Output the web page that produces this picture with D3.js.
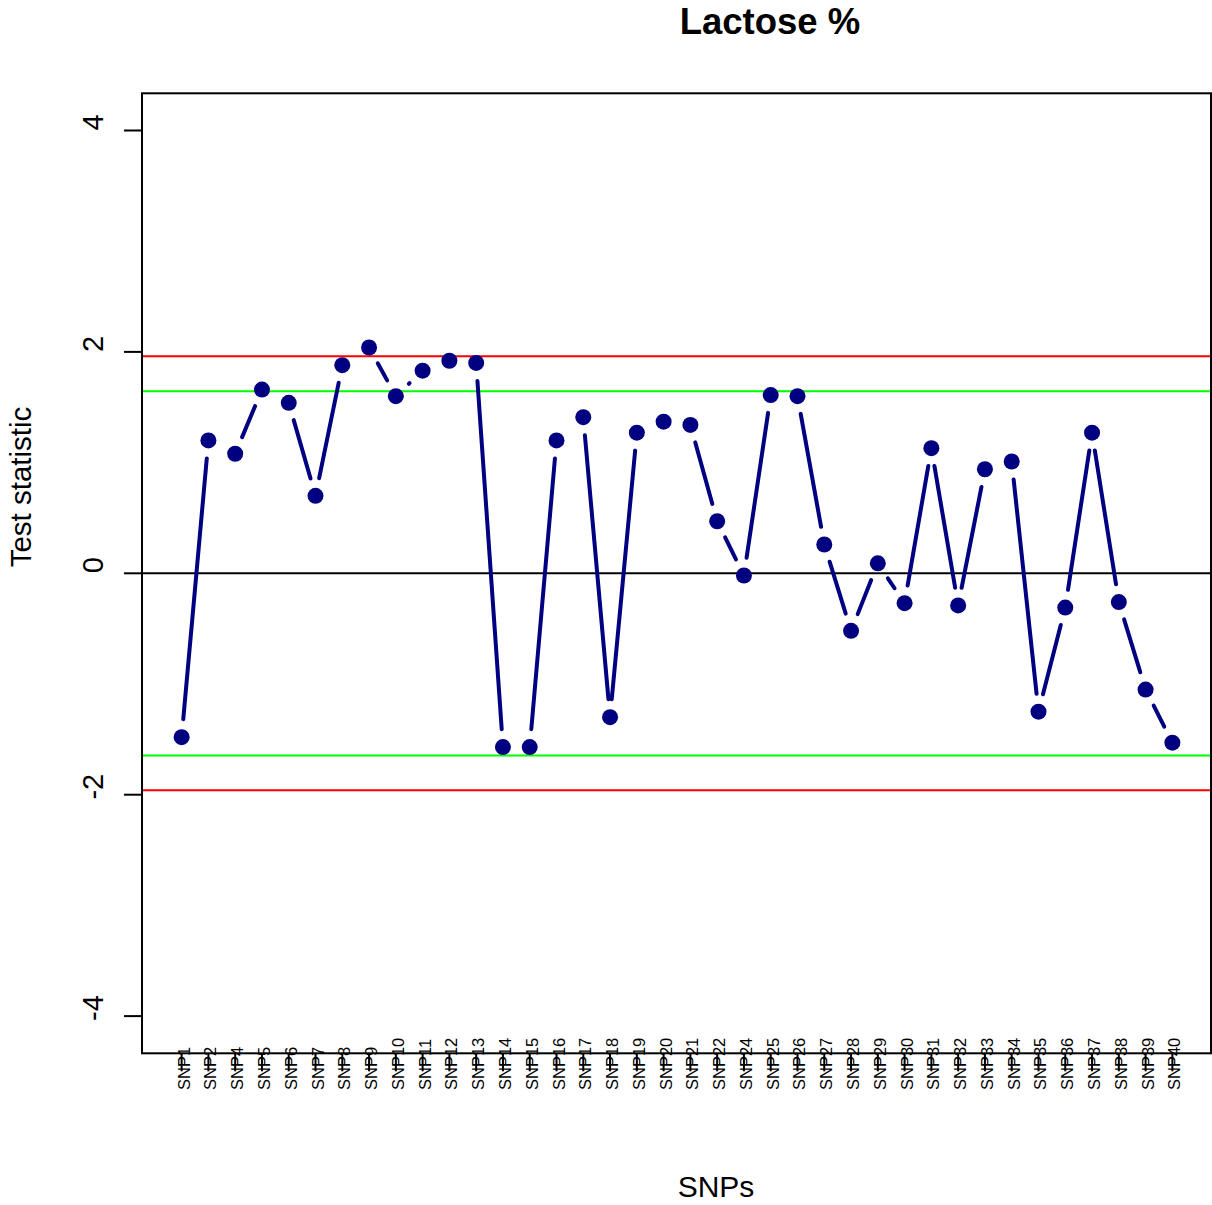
<!DOCTYPE html>
<html>
<head>
<meta charset="utf-8">
<script src="https://cdn.jsdelivr.net/npm/d3@7"></script>
<style>
  body { margin: 0; background: #fff; }
  svg { display: block; font-family: "Liberation Sans", Arial, sans-serif; }
</style>
</head>
<body>
<div id="chart"></div>
<script>
// SNP names on the x axis (SNP3 and SNP23 are not in the plot)
const snpLabels = ['SNP1', 'SNP2', 'SNP4', 'SNP5', 'SNP6', 'SNP7', 'SNP8', 'SNP9', 'SNP10',
  'SNP11', 'SNP12', 'SNP13', 'SNP14', 'SNP15', 'SNP16', 'SNP17', 'SNP18', 'SNP19', 'SNP20',
  'SNP21', 'SNP22', 'SNP24', 'SNP25', 'SNP26', 'SNP27', 'SNP28', 'SNP29', 'SNP30', 'SNP31',
  'SNP32', 'SNP33', 'SNP34', 'SNP35', 'SNP36', 'SNP37', 'SNP38', 'SNP39', 'SNP40'];

// test statistic per SNP
const testStat = [-1.48, 1.20, 1.08, 1.66, 1.54, 0.70, 1.88, 2.04, 1.60,
  1.83, 1.92, 1.90, -1.57, -1.57, 1.20, 1.41, -1.30, 1.27, 1.37,
  1.34, 0.47, -0.02, 1.61, 1.60, 0.26, -0.52, 0.09, -0.27, 1.13,
  -0.29, 0.94, 1.01, -1.25, -0.31, 1.27, -0.26, -1.05, -1.53];

const yTicks = [-4, -2, 0, 2, 4];
const redLines = [1.96, -1.96];
const greenLines = [1.645, -1.645];

const width = 1212, height = 1205;
const plotLeft = 142, plotRight = 1211, plotTop = 93.3, plotBottom = 1053.3;

const svg = d3.select('#chart')
  .append('svg')
  .attr('width', width)
  .attr('height', height);

const n = snpLabels.length;
const pad = (n - 1) * 0.04;
const x = d3.scaleLinear()
  .domain([1 - pad, n + pad])
  .range([plotLeft, 1212]);

const y = d3.scaleLinear()
  .domain([-4.336, 4.336])
  .range([plotBottom, plotTop]);

// reference lines
const hline = (v, color) => svg.append('line')
  .attr('x1', plotLeft).attr('x2', plotRight)
  .attr('y1', y(v)).attr('y2', y(v))
  .attr('stroke', color)
  .attr('stroke-width', 2);

redLines.forEach(v => hline(v, '#ff0000'));
greenLines.forEach(v => hline(v, '#00ff00'));
hline(0, '#000');

// line segments with gaps round the points (like R type = "b")
const pts = testStat.map((v, i) => [x(i + 1), y(v)]);
const gap = 18;
const segs = [];
for (let i = 0; i < pts.length - 1; i++) {
  const [x0, y0] = pts[i], [x1, y1] = pts[i + 1];
  const len = Math.hypot(x1 - x0, y1 - y0);
  if (len <= 2 * gap) continue;
  const ux = (x1 - x0) / len, uy = (y1 - y0) / len;
  segs.push([x0 + ux * gap, y0 + uy * gap, x1 - ux * gap, y1 - uy * gap]);
}

svg.append('g')
  .selectAll('line')
  .data(segs)
  .enter()
  .append('line')
  .attr('x1', d => d[0]).attr('y1', d => d[1])
  .attr('x2', d => d[2]).attr('y2', d => d[3])
  .attr('stroke', '#000080')
  .attr('stroke-width', 4)
  .attr('stroke-linecap', 'round');

svg.append('g')
  .selectAll('circle')
  .data(testStat)
  .enter()
  .append('circle')
  .attr('cx', (d, i) => x(i + 1))
  .attr('cy', d => y(d))
  .attr('r', 8)
  .attr('fill', '#000080');

// y axis ticks and labels
const yAxis = svg.append('g');
yAxis.selectAll('line')
  .data(yTicks)
  .enter()
  .append('line')
  .attr('x1', plotLeft - 18).attr('x2', plotLeft)
  .attr('y1', d => y(d)).attr('y2', d => y(d))
  .attr('stroke', '#000')
  .attr('stroke-width', 2);

yAxis.selectAll('text')
  .data(yTicks)
  .enter()
  .append('text')
  .attr('transform', d => `translate(103,${y(d) - 8}) rotate(-90)`)
  .attr('text-anchor', 'middle')
  .style('font-size', '29px')
  .text(d => d);

// x axis ticks and labels
const xAxis = svg.append('g');
xAxis.selectAll('text')
  .data(snpLabels)
  .enter()
  .append('text')
  .attr('transform', (d, i) => `translate(${x(i + 1) + 8},1090) rotate(-90)`)
  .attr('text-anchor', 'start')
  .style('font-size', '16.5px')
  .text(d => d);

xAxis.selectAll('line')
  .data(snpLabels)
  .enter()
  .append('line')
  .attr('x1', (d, i) => x(i + 1)).attr('x2', (d, i) => x(i + 1))
  .attr('y1', plotBottom).attr('y2', plotBottom + 18)
  .attr('stroke', '#000')
  .attr('stroke-width', 2);

// plot frame
svg.append('rect')
  .attr('x', plotLeft).attr('y', plotTop)
  .attr('width', plotRight - plotLeft).attr('height', plotBottom - plotTop)
  .attr('fill', 'none')
  .attr('stroke', '#000')
  .attr('stroke-width', 2);

// titles
svg.append('text')
  .attr('x', 770).attr('y', 34)
  .attr('text-anchor', 'middle')
  .style('font-size', '36.5px')
  .style('font-weight', 'bold')
  .text('Lactose %');

svg.append('text')
  .attr('x', 716).attr('y', 1197)
  .attr('text-anchor', 'middle')
  .style('font-size', '30px')
  .text('SNPs');

svg.append('text')
  .attr('transform', 'translate(31,487) rotate(-90)')
  .attr('text-anchor', 'middle')
  .style('font-size', '29.5px')
  .text('Test statistic');
</script>
</body>
</html>
